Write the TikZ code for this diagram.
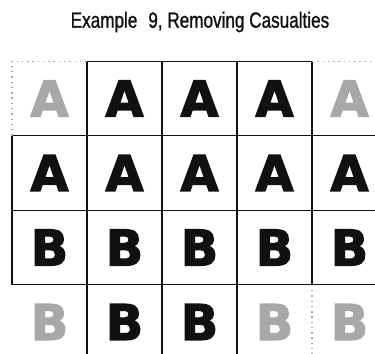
\documentclass[tikz,border=0pt]{standalone}
\usepackage{fontspec}
\newfontfamily\titlefont[FakeStretch=0.78, FakeBold=1.2]{Liberation Sans}
\newfontfamily\cellfont[FakeBold=2.6]{DejaVu Sans Bold}
\definecolor{Inkcol}{HTML}{111111}
\definecolor{Ghostcol}{HTML}{A8A8A8}
\usetikzlibrary{positioning}
\tikzset{
    cell/.style={minimum width=1.5cm, minimum height=1.49cm, inner sep=0pt, outer sep=0pt,
        font=\cellfont\fontsize{28}{28}\selectfont},
    live/.style={cell, draw=Inkcol, line width=0.8pt, text=Inkcol},
    ghost/.style={cell, text=Ghostcol},
    ghostline/.style={Ghostcol, line width=0.8pt, dash pattern=on 0.8pt off 2.2pt}
}

\begin{document}
\begin{tikzpicture}[x=0.02cm, y=-0.02cm]
    % Page frame (reference crops the last row and column)
    \useasboundingbox (0,0) rectangle (375,354);
    \clip (0,0) rectangle (375,354);

    % Title
    \node[font=\titlefont\fontsize{12.5}{13}\selectfont, text=Inkcol] (title) at (200,22) {Example\enspace 9, Removing Casualties};

    % Row 1
    \node[ghost] (c11) at (49.5, 98.5) {A};
    \node[live]  (c12) at (124.5, 98.5) {A};
    \node[live]  (c13) at (199.5, 98.5) {A};
    \node[live]  (c14) at (274.5, 98.5) {A};
    \node[ghost] (c15) at (349.5, 98.5) {A};

    % Row 2
    \node[live] (c21) at (49.5, 173) {A};
    \node[live] (c22) at (124.5, 173) {A};
    \node[live] (c23) at (199.5, 173) {A};
    \node[live] (c24) at (274.5, 173) {A};
    \node[live] (c25) at (349.5, 173) {A};

    % Row 3
    \node[live] (c31) at (49.5, 247.5) {B};
    \node[live] (c32) at (124.5, 247.5) {B};
    \node[live] (c33) at (199.5, 247.5) {B};
    \node[live] (c34) at (274.5, 247.5) {B};
    \node[live] (c35) at (349.5, 247.5) {B};

    % Row 4
    \node[ghost] (c41) at (49.5, 322) {B};
    \node[live]  (c42) at (124.5, 322) {B};
    \node[live]  (c43) at (199.5, 322) {B};
    \node[ghost] (c44) at (274.5, 322) {B};
    \node[ghost] (c45) at (349.5, 322) {B};

    % Dotted edges of removed cells
    \draw[ghostline] (c11.south west) -- (c11.north west) -- (c11.north east);
    \draw[ghostline] (c15.north west) -- (c15.north east) -- (c15.south east);
    \draw[ghostline] (c44.north east) -- (c44.south east);
\end{tikzpicture}
\end{document}
